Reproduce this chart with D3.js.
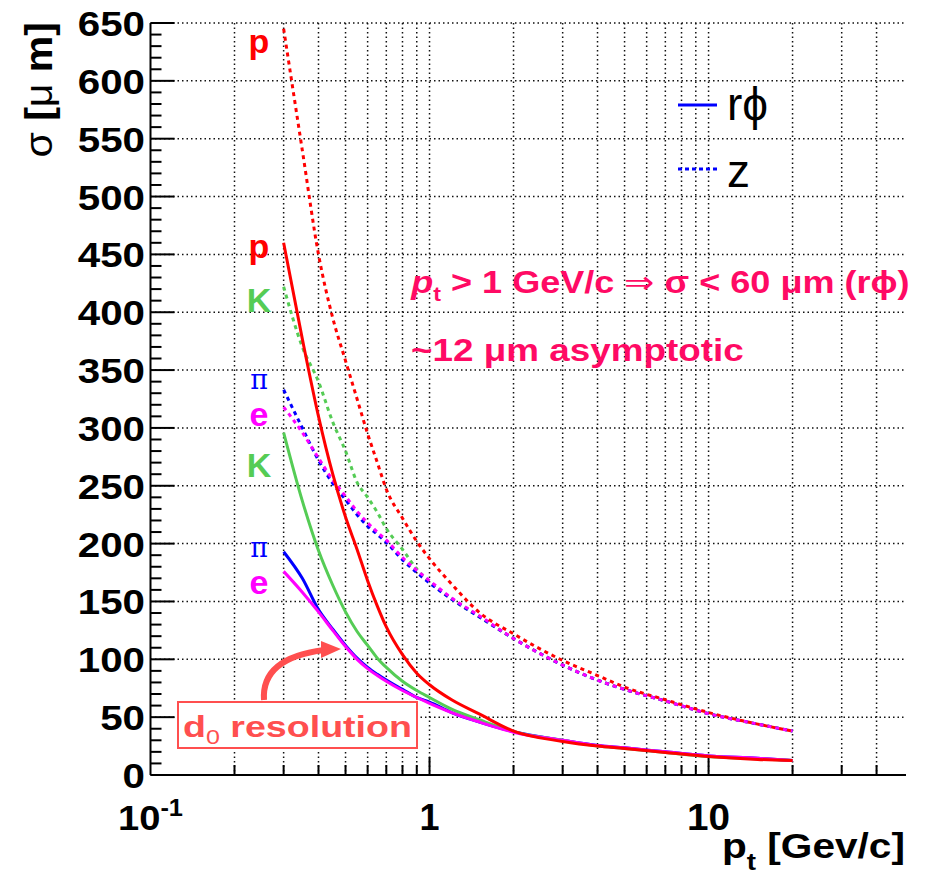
<!DOCTYPE html>
<html>
<head>
<meta charset="utf-8">
<script src="https://cdn.jsdelivr.net/npm/d3@7"></script>
<style>
  body { margin: 0; background: white; }
  text { font-family: "Liberation Sans", Arial, sans-serif; }
</style>
</head>
<body>
<div id="chart"></div>
<script>
var width = 926,
    height = 884;

// pt values [GeV/c] where the curves were read
var pt = [0.3, 0.35, 0.4, 0.45, 0.5, 0.55, 0.6, 0.65, 0.7, 0.8, 0.9, 1.0, 1.2, 1.5, 2, 3, 4, 5, 7, 10, 15, 20];

// r-phi resolution (solid)
var pRphi  = [460, 377, 310, 260, 223, 195, 168, 146, 128, 104, 88, 78, 65, 53, 38, 29, 25, 23, 19.5, 16, 13.5, 12.5];
var kRphi  = [296, 237, 194, 164, 141, 124, 112, 101, 93, 81, 73, 67, 57, 48, 37.5, 30, 25, 23, 19.5, 16, 14, 12.5];
var piRphi = [193, 170, 143, 126, 112, 101, 93, 87, 82, 74, 67, 63, 54, 46, 37.5, 30, 25.5, 23.5, 20, 16.5, 14.5, 12.5];
var eRphi  = [176, 158, 141, 125, 111, 100, 92, 86, 81, 73, 67, 62, 54, 46, 37, 30, 25.5, 23.5, 20, 16.5, 14.5, 12.5];

// z resolution (dotted)
var pZ  = [645, 540, 450, 395, 358, 325, 295, 270, 247, 222, 202, 187, 165, 141, 122, 99, 86, 76, 65, 54, 44, 38];
var kZ  = [422, 370, 340, 305, 280, 253, 240, 227, 213, 195, 178, 167, 152, 137, 118, 95, 82, 74, 64, 53, 44, 38];
var piZ = [333, 300, 272, 252, 238, 225, 215, 208, 201, 186, 175, 166, 152, 137, 118, 95, 82, 74, 64, 53, 44, 38];
var eZ  = [318, 296, 274, 255, 241, 228, 218, 210, 203, 188, 177, 168, 153, 138, 118, 95, 82, 74, 64, 53, 44, 38];

var yTicks = [0, 50, 100, 150, 200, 250, 300, 350, 400, 450, 500, 550, 600, 650];
var xGrid = [0.2, 0.3, 0.4, 0.5, 0.6, 0.7, 0.8, 0.9, 1, 2, 3, 4, 5, 6, 7, 8, 9, 10, 20, 30, 40];

var colors = {p: "#ff0000", K: "#55cc55", pi: "#0000ff", e: "#ff00ff"};

var series = [
  {v: kZ, c: colors.K, dash: true},
  {v: piZ, c: colors.pi, dash: true},
  {v: eZ, c: colors.e, dash: true},
  {v: pZ, c: colors.p, dash: true},
  {v: piRphi, c: colors.pi},
  {v: kRphi, c: colors.K},
  {v: eRphi, c: colors.e},
  {v: pRphi, c: colors.p}
];

var svg = d3.select("#chart").append("svg")
    .attr("width", width)
    .attr("height", height);

var x = d3.scaleLog().domain([0.1, 51]).range([150.5, 906]);
var y = d3.scaleLinear().domain([0, 650]).range([775, 23]);

// widen a text horizontally about a fixed point (the reference font is wider)
function stretch(node, k, ax) {
    d3.select(node).attr("transform",
        "translate(" + ax + ",0) scale(" + k + ",1) translate(" + (-ax) + ",0)");
}
function fitWidth(sel, target, anchor) {
    sel.each(function() {
        var b = this.getBBox();
        var ax = anchor == "end" ? b.x + b.width : anchor == "middle" ? b.x + b.width / 2 : b.x;
        stretch(this, target / b.width, ax);
    });
}

// dotted grid
svg.append("g").selectAll("line").data(xGrid).enter().append("line")
    .attr("x1", d => x(d)).attr("x2", d => x(d))
    .attr("y1", y(650)).attr("y2", y(0))
    .attr("stroke", "#111").attr("stroke-width", 1.5).attr("stroke-dasharray", "1.5,3");
svg.append("g").selectAll("line").data(yTicks.slice(1)).enter().append("line")
    .attr("x1", x(0.1)).attr("x2", x(51))
    .attr("y1", d => y(d)).attr("y2", d => y(d))
    .attr("stroke", "#111").attr("stroke-width", 1.5).attr("stroke-dasharray", "1.5,3");

// y axis, ticks pointing inward
var yMinor = d3.range(0, 651, 10);
svg.append("g").selectAll("line").data(yMinor).enter().append("line")
    .attr("x1", x(0.1)).attr("x2", d => x(0.1) + (d % 50 == 0 ? 24 : 11))
    .attr("y1", d => y(d)).attr("y2", d => y(d))
    .attr("stroke", "#000").attr("stroke-width", 2);
svg.append("line")
    .attr("x1", x(0.1)).attr("x2", x(0.1)).attr("y1", y(650)).attr("y2", y(0))
    .attr("stroke", "#000").attr("stroke-width", 2);
svg.append("g").selectAll("text").data(yTicks).enter().append("text")
    .attr("x", 145).attr("y", d => y(d) + 13)
    .attr("text-anchor", "end")
    .style("font-size", "36px").style("font-weight", "bold")
    .text(d => d)
    .each(function() { stretch(this, 1.12, 145); });

// x axis
svg.append("line")
    .attr("x1", x(0.1)).attr("x2", x(51)).attr("y1", y(0)).attr("y2", y(0))
    .attr("stroke", "#000").attr("stroke-width", 2);
svg.append("g").selectAll("line").data(xGrid).enter().append("line")
    .attr("x1", d => x(d)).attr("x2", d => x(d))
    .attr("y1", y(0)).attr("y2", d => y(0) - (d == 1 || d == 10 ? 18 : 10))
    .attr("stroke", "#000").attr("stroke-width", 2);

var xl = svg.append("text").attr("x", x(0.1)).attr("y", 830).attr("text-anchor", "middle")
    .style("font-size", "36px").style("font-weight", "bold");
xl.append("tspan").text("10");
xl.append("tspan").attr("dy", -14).style("font-size", "24px").text("-1");
fitWidth(xl, 65, "middle");
svg.append("text").attr("x", x(1)).attr("y", 830).attr("text-anchor", "middle")
    .style("font-size", "36px").style("font-weight", "bold").text("1");
var x10 = svg.append("text").attr("x", x(10)).attr("y", 830).attr("text-anchor", "middle")
    .style("font-size", "36px").style("font-weight", "bold").text("10");
fitWidth(x10, 43, "middle");

// axis titles
var xt = svg.append("text").attr("x", 722).attr("y", 858)
    .style("font-size", "35px").style("font-weight", "bold");
xt.append("tspan").text("p");
xt.append("tspan").attr("dy", 12).style("font-size", "24px").text("t");
xt.append("tspan").attr("dy", -12).text(" [Gev/c]");
fitWidth(xt, 183, "start");

var yt = svg.append("text")
    .attr("transform", "translate(52,22) rotate(-90) scale(1.08,1)")
    .attr("text-anchor", "end")
    .style("font-size", "38px").style("font-weight", "bold");
yt.append("tspan").style("font-weight", "normal").text("σ");
yt.append("tspan").text(" [");
yt.append("tspan").style("font-weight", "normal").text("μ");
yt.append("tspan").text(" m]");

// curves
var line = d3.line()
    .x((d, i) => x(pt[i]))
    .y(d => y(d))
    .curve(d3.curveMonotoneX);

svg.append("g").selectAll("path").data(series).enter().append("path")
    .attr("d", d => line(d.v))
    .attr("fill", "none")
    .attr("stroke", d => d.c)
    .attr("stroke-width", 3)
    .attr("stroke-dasharray", d => d.dash ? "4,4" : null);

// particle labels
var labels = [
  {t: "p", c: colors.p, y: 53},
  {t: "p", c: colors.p, y: 258},
  {t: "K", c: colors.K, y: 312},
  {t: "π", c: colors.pi, y: 389, greek: true},
  {t: "e", c: colors.e, y: 426},
  {t: "K", c: colors.K, y: 477},
  {t: "π", c: colors.pi, y: 557, greek: true},
  {t: "e", c: colors.e, y: 594}
];
svg.append("g").selectAll("text").data(labels).enter().append("text")
    .attr("x", 259).attr("y", d => d.y)
    .attr("text-anchor", "middle")
    .attr("fill", d => d.c)
    .style("font-family", d => d.greek ? "'DejaVu Serif', serif" : null)
    .style("font-size", d => d.greek ? "27px" : "34px")
    .style("font-weight", d => d.greek ? "normal" : "bold")
    .text(d => d.t);

// legend
svg.append("line").attr("x1", 678).attr("x2", 717).attr("y1", 105).attr("y2", 105)
    .attr("stroke", colors.pi).attr("stroke-width", 3);
svg.append("line").attr("x1", 678).attr("x2", 717).attr("y1", 169).attr("y2", 169)
    .attr("stroke", colors.pi).attr("stroke-width", 3).attr("stroke-dasharray", "4,3");
svg.append("text").attr("x", 727).attr("y", 120).style("font-size", "46px").text("rϕ");
svg.append("text").attr("x", 727).attr("y", 187).style("font-size", "46px").text("z");

// annotations
var pink = "#ff0a64";
var a1 = svg.append("text").attr("x", 411).attr("y", 293).attr("fill", pink)
    .style("font-size", "31px").style("font-weight", "bold");
a1.append("tspan").style("font-style", "italic").text("p");
a1.append("tspan").attr("dy", 8).style("font-size", "20px").text("t");
a1.append("tspan").attr("dy", -8).text(" > 1 GeV/c ");
a1.append("tspan").style("font-weight", "normal").text("⇒");
a1.append("tspan").text(" σ < 60 μm (rϕ)");
fitWidth(a1, 500, "start");

var a2 = svg.append("text").attr("x", 411).attr("y", 361).attr("fill", pink)
    .style("font-size", "31px").style("font-weight", "bold")
    .text("~12 μm asymptotic");
fitWidth(a2, 333, "start");

// d0 resolution box and arrow
var salmon = "#ff4f4f";
svg.append("rect").attr("x", 178).attr("y", 702).attr("width", 239).attr("height", 46)
    .attr("fill", "white").attr("stroke", salmon).attr("stroke-width", 2);
var d0 = svg.append("text").attr("x", 183).attr("y", 737).attr("fill", salmon)
    .style("font-size", "30px").style("font-weight", "bold");
d0.append("tspan").text("d");
d0.append("tspan").attr("dy", 7).style("font-size", "20px").style("font-weight", "normal").text("0");
d0.append("tspan").attr("dy", -7).text(" resolution");
fitWidth(d0, 229, "start");

svg.append("path")
    .attr("d", "M264,700 C262,670 285,655 324,650")
    .attr("fill", "none").attr("stroke", salmon).attr("stroke-width", 6);
svg.append("path")
    .attr("d", "M321,641 L341,649 L321,658 Z")
    .attr("fill", salmon);
</script>
</body>
</html>
